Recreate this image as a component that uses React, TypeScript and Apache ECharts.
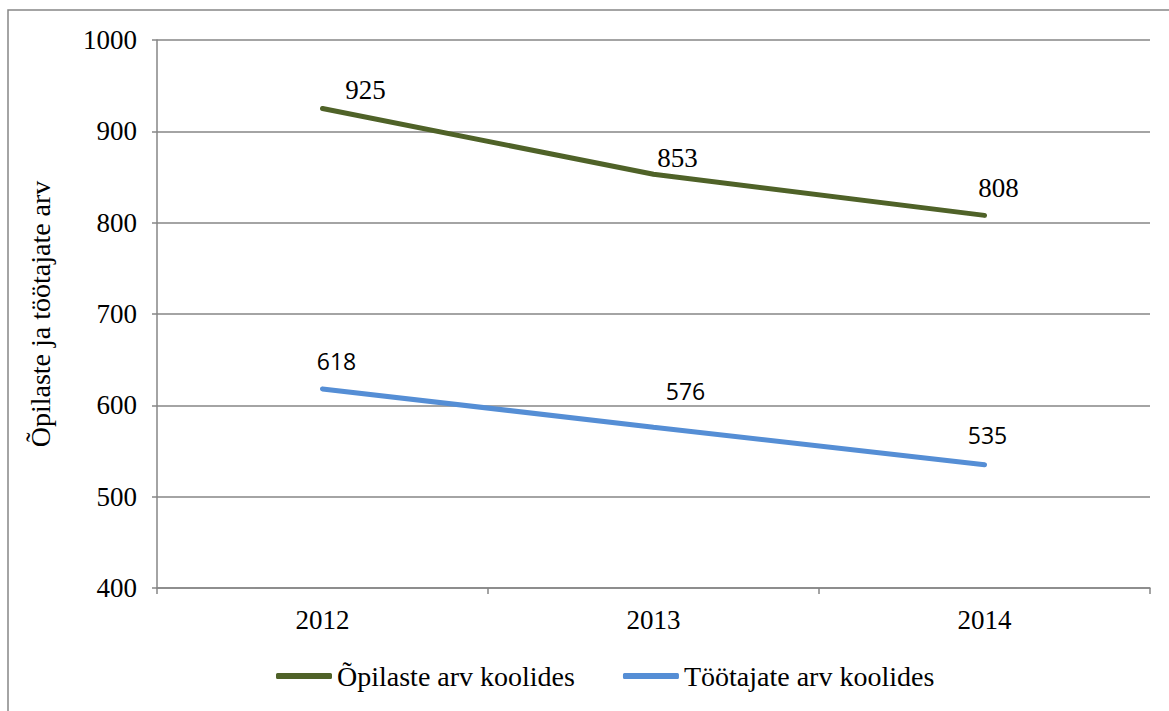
import React, { useEffect, useRef } from "react";
import * as echarts from "echarts";

const categories = ["2012", "2013", "2014"];
const pupils = [925, 853, 808];
const staff = [618, 576, 535];
const seriesNames = ["Õpilaste arv koolides", "Töötajate arv koolides"];
const yAxisTitle = "Õpilaste ja töötajate arv";

// label offsets (style, not data)
const pupilOffsets = [[43, 2], [24, 4], [14, -7]];
const staffOffsets = [[14, -9], [32, -18], [3, -11]];

const SERIF = "Liberation Serif, Times New Roman, Times, serif";
const SANS = "Open Sans";
const GRAY = "#868686";
const GREEN = "#4F6228";
const BLUE = "#558ED5";

export default function App() {
  const ref = useRef<HTMLDivElement>(null);
  useEffect(() => {
    const chart = echarts.init(ref.current!, null, { renderer: "svg" });
    chart.setOption({
      animation: false,
      backgroundColor: "#ffffff",
      textStyle: { fontFamily: SERIF },
      graphic: [
        {
          type: "rect",
          shape: { x: 8, y: 10, width: 1170, height: 720 },
          style: { fill: "none", stroke: GRAY, lineWidth: 1.5 },
          silent: true,
        },
      ],
      grid: { left: 157, right: 19, top: 40, bottom: 123 },
      legend: {
        bottom: 16,
        left: 271,
        data: seriesNames,
        icon: "roundRect",
        itemWidth: 56,
        itemHeight: 6,
        itemGap: 48,
        textStyle: { fontFamily: SERIF, fontSize: 28, color: "#000" },
      },
      xAxis: {
        type: "category",
        data: categories,
        boundaryGap: true,
        axisLine: { lineStyle: { color: GRAY, width: 1.5 } },
        axisTick: { show: true, length: 6, inside: false, lineStyle: { color: GRAY, width: 1.5 } },
        axisLabel: { fontFamily: SERIF, fontSize: 27, color: "#000", margin: 18 },
      },
      yAxis: {
        type: "value",
        min: 400,
        max: 1000,
        interval: 100,
        name: yAxisTitle,
        nameLocation: "middle",
        nameGap: 103,
        nameTextStyle: { fontFamily: SERIF, fontSize: 28, color: "#000" },
        axisLine: { show: true, lineStyle: { color: GRAY, width: 1.5 } },
        axisTick: { show: true, length: 5, lineStyle: { color: GRAY, width: 1.5 } },
        splitLine: { lineStyle: { color: GRAY, width: 1.5 } },
        axisLabel: {
          fontFamily: SERIF,
          fontSize: 27,
          color: "#000",
          margin: 20,
          formatter: (v: number) => String(v),
        },
      },
      series: [
        {
          name: seriesNames[0],
          type: "line",
          data: pupils.map((v, i) => ({
            value: v,
            label: { offset: pupilOffsets[i] },
          })),
          color: GREEN,
          symbol: "circle",
          symbolSize: 4,
          showSymbol: true,
          itemStyle: { color: GREEN, borderWidth: 0 },
          lineStyle: { width: 5, color: GREEN, cap: "round" },
          label: {
            show: true,
            position: "top",
            distance: 5,
            fontFamily: SERIF,
            fontSize: 27,
            color: "#000",
          },
        },
        {
          name: seriesNames[1],
          type: "line",
          data: staff.map((v, i) => ({
            value: v,
            label: { offset: staffOffsets[i] },
          })),
          color: BLUE,
          symbol: "circle",
          symbolSize: 4,
          showSymbol: true,
          itemStyle: { color: BLUE, borderWidth: 0 },
          lineStyle: { width: 5, color: BLUE, cap: "round" },
          label: {
            show: true,
            position: "top",
            distance: 5,
            fontFamily: SANS,
            fontSize: 23,
            color: "#000",
          },
        },
      ],
    });
    return () => chart.dispose();
  }, []);
  return (
    <div
      ref={ref}
      style={{ position: "absolute", left: 0, top: 0, width: 1169, height: 711 }}
    />
  );
}
